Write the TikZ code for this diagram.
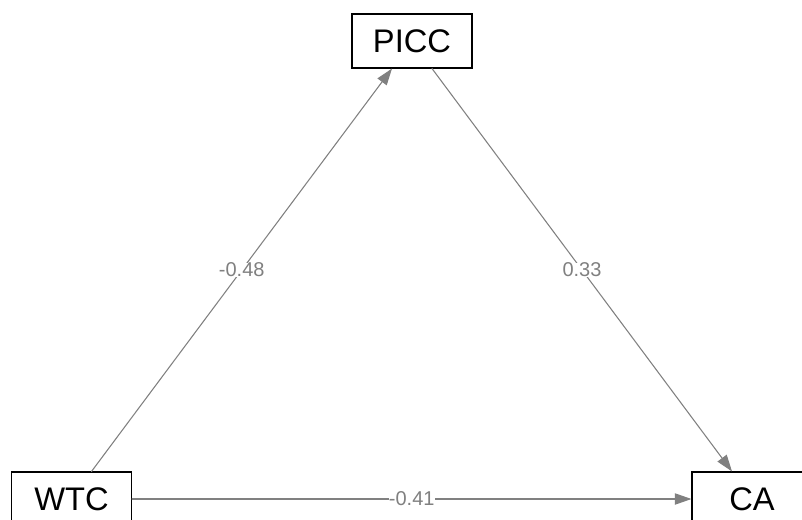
\documentclass[tikz,border=0pt]{standalone}
\usepackage{fontspec}
\setmainfont{Liberation Sans}
\usepackage{tikz}
\usetikzlibrary{arrows.meta}
\usepackage{xcolor}

\begin{document}
\begin{tikzpicture}[x=0.75pt,y=-0.75pt,>={Triangle[length=12.5pt,width=8.5pt]},line cap=round,
  var/.style={draw=black,line width=0.8pt,minimum width=90pt,minimum height=40.5pt,inner sep=0pt,font=\fontsize{24.5}{28}\selectfont},
  path/.style={->,draw=gray,line width=0.8pt},
  lab/.style={fill=white,text=gray,inner sep=0pt,font=\fontsize{15}{18}\selectfont}]
\useasboundingbox (0,0) rectangle (802,520);
\begin{scope}
\clip (0,0) rectangle (802,520);
\node[var] (picc) at (412,41) {PICC};
\node[var] (wtc) at (71.5,499) {WTC};
\node[var] (ca) at (752,499) {CA};
\end{scope}
\draw[path] ([xshift=15pt]wtc.north) -- node[lab]{-0.48} ([xshift=-15pt]picc.south);
\draw[path] ([xshift=15pt]picc.south) -- node[lab]{0.33} ([xshift=-15pt]ca.north);
\draw[path] (wtc.east) -- node[lab]{-0.41} (ca.west);
\end{tikzpicture}
\end{document}
